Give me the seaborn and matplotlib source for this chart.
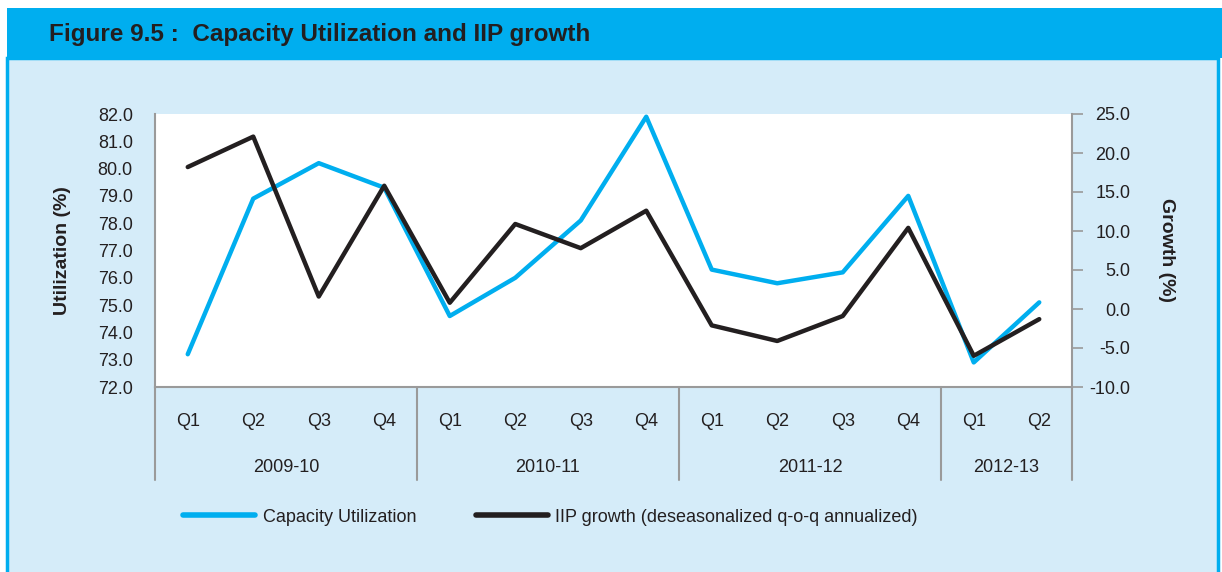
import numpy as np
import pandas as pd
import matplotlib
matplotlib.use("Agg")
import matplotlib.pyplot as plt
import matplotlib.transforms as mtransforms
from matplotlib.patches import Rectangle
from matplotlib.lines import Line2D
import seaborn as sns

# ---- data ----
years = ["2009-10", "2010-11", "2011-12", "2012-13"]
quarters = ["Q1", "Q2", "Q3", "Q4", "Q1", "Q2", "Q3", "Q4",
            "Q1", "Q2", "Q3", "Q4", "Q1", "Q2"]
quarters_per_year = [4, 4, 4, 2]
capacity_utilization = [73.2, 78.9, 80.2, 79.3, 74.6, 76.0, 78.1, 81.9,
                        76.3, 75.8, 76.2, 79.0, 72.9, 75.1]
iip_growth = [18.2, 22.1, 1.6, 15.8, 0.8, 10.9, 7.8, 12.6,
              -2.1, -4.1, -0.9, 10.4, -6.0, -1.3]

BLUE = "#00AEEF"
DARK = "#231F20"
BG = "#D5ECF9"
GRAY = "#9A9A9A"

sns.set_theme(style="white")
plt.rcParams["font.family"] = ["Liberation Sans", "DejaVu Sans"]

df = pd.DataFrame({"idx": np.arange(len(quarters)),
                   "cu": capacity_utilization,
                   "iip": iip_growth})

W, H = 1222, 572
fig = plt.figure(figsize=(W / 100, H / 100), dpi=100)
fig.patch.set_facecolor("white")

# frame background
fig.patches.append(Rectangle((7 / W, -0.01), 1211 / W, (H - 58) / H + 0.01,
                             transform=fig.transFigure, facecolor=BG,
                             edgecolor=BLUE, linewidth=2.5, zorder=-10))
# title bar
fig.patches.append(Rectangle((7 / W, (H - 58) / H), (W - 7) / W, 50 / H,
                             transform=fig.transFigure, facecolor=BLUE,
                             edgecolor="none", zorder=-9))
fig.text(49 / W, 1 - 34 / H, "Figure 9.5 :  Capacity Utilization and IIP growth",
         fontsize=17.5, fontweight="bold", color=DARK, va="center", ha="left")

ax = fig.add_axes([155 / W, 1 - 387 / H, (1072 - 155) / W, (387 - 114) / H])
ax.set_facecolor("white")
ax2 = ax.twinx()

sns.lineplot(data=df, x="idx", y="cu", ax=ax, color=BLUE, linewidth=3.2,
             legend=False, zorder=3)
sns.lineplot(data=df, x="idx", y="iip", ax=ax2, color=DARK, linewidth=3.2,
             legend=False, zorder=4)

ax.set_xlim(-0.5, len(quarters) - 0.5)
ax.set_ylim(72, 82)
ax2.set_ylim(-10, 25)
ax.set_yticks(np.arange(72, 82.1, 1))
ax.set_yticklabels([f"{v:.1f}" for v in np.arange(72, 82.1, 1)])
ax2.set_yticks(np.arange(-10, 25.1, 5))
ax2.set_yticklabels([f"{v:.1f}" for v in np.arange(-10, 25.1, 5)])

ax.set_xticks(df["idx"])
ax.set_xticklabels(quarters)
ax.tick_params(axis="x", length=0, pad=19, labelsize=13, colors=DARK)
ax.tick_params(axis="y", length=0, pad=16, labelsize=13, colors=DARK)
ax2.tick_params(axis="y", length=8, width=1.2, color=GRAY, pad=34,
                labelsize=13, colors=DARK, direction="out")
for lab in ax2.get_yticklabels():
    lab.set_horizontalalignment("right")
for lab in ax.get_yticklabels() + ax.get_xticklabels():
    lab.set_color(DARK)

for a in (ax, ax2):
    for s in a.spines.values():
        s.set_visible(False)
ax.spines["left"].set_visible(True)
ax.spines["bottom"].set_visible(True)
ax2.spines["right"].set_visible(True)
for s in (ax.spines["left"], ax.spines["bottom"], ax2.spines["right"]):
    s.set_color(GRAY)
    s.set_linewidth(1.5)

ax.set_xlabel("")
ax.set_ylabel("Utilization (%)", fontsize=14, fontweight="bold", color=DARK)
ax2.set_ylabel("Growth (%)", fontsize=14, fontweight="bold", color=DARK,
               rotation=-90, va="center")
ax.yaxis.set_label_coords(-84 / 917, 0.5)
ax2.yaxis.set_label_coords(1 + 95 / 917, 0.5)

# year group separators and labels
trans = mtransforms.blended_transform_factory(ax.transData, ax.transAxes)
bounds = np.concatenate([[0], np.cumsum(quarters_per_year)]) - 0.5
for b in bounds:
    ax.add_line(Line2D([b, b], [0, -93 / 273], transform=trans, color=GRAY,
                       linewidth=1.5, clip_on=False))
for i, y in enumerate(years):
    c = (bounds[i] + bounds[i + 1]) / 2
    ax.text(c, -81 / 273, y, transform=trans, ha="center", va="center",
            fontsize=13, color=DARK)

# legend
handles = [Line2D([], [], color=BLUE, linewidth=4),
           Line2D([], [], color=DARK, linewidth=4)]
fig.legend(handles, ["Capacity Utilization",
                     "IIP growth (deseasonalized q-o-q annualized)"],
           loc="center left", bbox_to_anchor=(167 / W, 1 - 517 / H),
           ncol=2, frameon=False, fontsize=13, handlelength=4.0,
           handletextpad=0.4, columnspacing=3.3, labelcolor=DARK)

fig.savefig("out.png", dpi=100, facecolor=fig.get_facecolor())
